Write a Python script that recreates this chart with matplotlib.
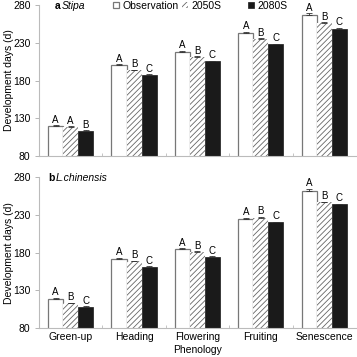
import matplotlib
matplotlib.use("Agg")
import matplotlib.pyplot as plt
import numpy as np

plt.rcParams['font.family'] = ['Liberation Sans', 'DejaVu Sans']
plt.rcParams['hatch.linewidth'] = 0.6

categories = ["Green-up", "Heading", "Flowering", "Fruiting", "Senescence"]
series = ["Observation", "2050S", "2080S"]

stipa_obs = [119.3, 200.1, 218.1, 242.9, 267.2]
stipa_2050 = [118.4, 193.5, 211.1, 234.5, 255.7]
stipa_2080 = [113.0, 187.3, 205.4, 227.9, 248.6]
stipa_err_obs = [1.2, 1.5, 1.0, 1.5, 2.0]
stipa_err_2050 = [0.8, 1.0, 1.2, 1.2, 1.2]
stipa_err_2080 = [0.8, 0.8, 0.8, 1.0, 1.2]
stipa_letters = [["A", "A", "B"], ["A", "B", "C"], ["A", "B", "C"], ["A", "B", "C"], ["A", "B", "C"]]

lc_obs = [118.6, 171.8, 184.7, 224.1, 262.2]
lc_2050 = [112.4, 168.3, 180.7, 226.3, 246.8]
lc_2080 = [107.5, 161.1, 174.4, 220.2, 244.1]
lc_err_obs = [1.5, 1.5, 1.2, 2.0, 2.5]
lc_err_2050 = [1.0, 1.0, 1.0, 1.0, 1.0]
lc_err_2080 = [0.8, 0.8, 0.8, 0.8, 1.0]
lc_letters = [["A", "B", "C"]] * 5

yticks = [80, 130, 180, 230, 280]

fig = plt.figure(figsize=(3.57, 3.57), dpi=100)
ax1 = fig.add_axes([0.109, 0.563, 0.888, 0.423])
ax2 = fig.add_axes([0.109, 0.082, 0.888, 0.421])

w = 0.237
x = np.arange(len(categories))

def draw(ax, obs, s50, s80, e_obs, e50, e80, letters, title_bold, title_it, tx):
    b1 = ax.bar(x - w, obs, w, color='white', edgecolor='#777777', linewidth=0.9, label=series[0])
    b2 = ax.bar(x, s50, w, color='white', edgecolor='#666666', hatch='//////', linewidth=0.0, label=series[1])
    b3 = ax.bar(x + w, s80, w, color='#1a1a1a', edgecolor='#1a1a1a', linewidth=0.5, label=series[2])
    groups = [(-w, obs, e_obs), (0, s50, e50), (w, s80, e80)]
    for off, vals, errs in groups:
        ax.errorbar(x + off, vals, yerr=[np.zeros(len(vals)), errs], fmt='none',
                    ecolor='#333333', elinewidth=0.6, capsize=2.2, capthick=0.6)
    for j, (off, vals, errs) in enumerate(groups):
        for i, (v, e) in enumerate(zip(vals, errs)):
            ax.text(x[i] + off, v + e + 0.8, letters[i][j], ha='center', va='bottom', fontsize=7)
    ax.set_xlim(-0.5, 4.5)
    ax.set_ylim(80, 280)
    ax.set_yticks(yticks)
    ax.tick_params(axis='y', direction='out', length=3, width=0.6, color='#aaaaaa', labelsize=7.5, pad=3)
    ax.set_xticks(np.arange(0.5, 4.5, 1.0))
    ax.tick_params(axis='x', direction='in', length=2.5, width=0.6, color='#bbbbbb', labelbottom=False)
    for s in ['top', 'right']:
        ax.spines[s].set_visible(False)
    for s in ['left', 'bottom']:
        ax.spines[s].set_color('#bbbbbb')
        ax.spines[s].set_linewidth(0.8)
    ax.set_ylabel("Development days (d)", fontsize=7.5)
    ax.yaxis.set_label_coords(-0.078, 0.5)
    ax.text(tx, 0.993, title_bold, transform=ax.transAxes, fontsize=7.5, fontweight='bold', va='center', ha='left')
    ax.text(tx + 0.023, 0.993, title_it, transform=ax.transAxes, fontsize=7.5, style='italic', va='center', ha='left')
    return b1, b2, b3

handles = draw(ax1, stipa_obs, stipa_2050, stipa_2080, stipa_err_obs, stipa_err_2050, stipa_err_2080,
               stipa_letters, "a", "Stipa", 0.05)
draw(ax2, lc_obs, lc_2050, lc_2080, lc_err_obs, lc_err_2050, lc_err_2080, lc_letters, "b", "L.chinensis", 0.03)

for i, c in enumerate(categories):
    ax2.text(x[i], 74, c, ha='center', va='top', fontsize=7.5)
ax2.text(2, 50, "Phenology", ha='center', va='center', fontsize=7.5)

legend_x = [0.3165, 0.51, 0.695]
for h, lab, lx in zip(handles, series, legend_x):
    fig.legend([h], [lab], loc='center left', bbox_to_anchor=(lx, 0.984), frameon=False,
               fontsize=7.5, handlelength=0.6, handleheight=0.6, handletextpad=0.3,
               borderaxespad=0.0, borderpad=0.0)

fig.savefig("out.png", dpi=100)
